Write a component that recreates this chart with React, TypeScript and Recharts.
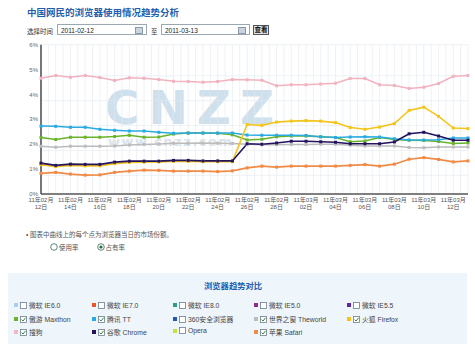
import { LineChart, Line, XAxis, YAxis, CartesianGrid } from 'recharts'

// 2011-02-12 .. 2011-03-13, one point per day
const days = [
    '2011-02-12', '2011-02-13', '2011-02-14', '2011-02-15', '2011-02-16', '2011-02-17',
    '2011-02-18', '2011-02-19', '2011-02-20', '2011-02-21', '2011-02-22', '2011-02-23',
    '2011-02-24', '2011-02-25', '2011-02-26', '2011-02-27', '2011-02-28', '2011-03-01',
    '2011-03-02', '2011-03-03', '2011-03-04', '2011-03-05', '2011-03-06', '2011-03-07',
    '2011-03-08', '2011-03-09', '2011-03-10', '2011-03-11', '2011-03-12', '2011-03-13',
]

const yTicks = [0, 1, 2, 3, 4, 5, 6]

// market share, %
const sogou = [4.65, 4.76, 4.69, 4.76, 4.68, 4.56, 4.67, 4.65, 4.6, 4.53, 4.52, 4.49, 4.52, 4.6, 4.59, 4.57, 4.35, 4.39, 4.39, 4.42, 4.45, 4.64, 4.64, 4.39, 4.36, 4.24, 4.29, 4.44, 4.73, 4.76]
const tt = [2.73, 2.72, 2.68, 2.68, 2.6, 2.56, 2.53, 2.53, 2.48, 2.44, 2.45, 2.45, 2.45, 2.45, 2.37, 2.36, 2.36, 2.36, 2.35, 2.3, 2.27, 2.29, 2.3, 2.29, 2.22, 2.17, 2.17, 2.18, 2.25, 2.25]
const maxthon = [2.27, 2.19, 2.28, 2.28, 2.28, 2.31, 2.36, 2.28, 2.29, 2.41, 2.45, 2.45, 2.44, 2.38, 2.17, 2.2, 2.3, 2.33, 2.33, 2.3, 2.27, 2.1, 2.13, 2.27, 2.19, 2.16, 2.15, 2.11, 2.03, 2.05]
const theworld = [1.92, 1.88, 1.92, 1.92, 1.92, 1.93, 1.97, 1.99, 2.01, 2.04, 2.04, 2.05, 2.04, 2.03, 2.0, 1.98, 1.98, 1.99, 1.99, 2.0, 2.0, 1.96, 1.93, 1.93, 1.93, 1.87, 1.86, 1.89, 1.89, 1.89]
const chrome = [1.24, 1.15, 1.2, 1.19, 1.19, 1.28, 1.32, 1.32, 1.32, 1.35, 1.35, 1.33, 1.33, 1.33, 2.02, 2.0, 2.05, 2.12, 2.12, 2.1, 2.08, 2.02, 2.02, 2.02, 2.09, 2.42, 2.48, 2.33, 2.16, 2.16]
const firefox = [1.18, 1.1, 1.15, 1.13, 1.13, 1.22, 1.27, 1.28, 1.29, 1.31, 1.31, 1.3, 1.3, 1.3, 2.79, 2.76, 2.89, 2.93, 2.95, 2.93, 2.87, 2.67, 2.6, 2.69, 2.83, 3.36, 3.49, 3.12, 2.65, 2.63]
const safari = [0.83, 0.87, 0.8, 0.76, 0.77, 0.87, 0.92, 0.96, 0.95, 0.92, 0.92, 0.92, 0.9, 0.93, 1.05, 1.12, 1.08, 1.12, 1.12, 1.12, 1.12, 1.15, 1.18, 1.12, 1.2, 1.4, 1.46, 1.39, 1.29, 1.33]

// legend panel entries (row by row)
const legendNames = [
    ['微软 IE6.0', '微软 IE7.0', '微软 IE8.0', '微软 IE5.0', '微软 IE5.5'],
    ['傲游 Maxthon', '腾讯 TT', '360安全浏览器', '世界之窗 Theworld', '火狐 Firefox'],
    ['搜狗', '谷歌 Chrome', 'Opera', '苹果 Safari'],
]
const legendColors = [
    ['#a9cdef', '#e9542c', '#2a9d8f', '#8c2c8e', '#5a2aa2'],
    ['#6ab42c', '#2aa8e0', '#2556b4', '#bdbdbd', '#f5c21b'],
    ['#f4b6c4', '#24125e', '#c8e03c', '#ef8a4a'],
]
const legendChecked = [
    [false, false, false, false, false],
    [true, true, false, true, true],
    [true, true, false, true],
]

const font = '"Liberation Sans", "Noto Sans CJK SC", sans-serif'

const chartData = days.map((d, i) => ({
    i,
    sogou: sogou[i],
    tt: tt[i],
    maxthon: maxthon[i],
    theworld: theworld[i],
    chrome: chrome[i],
    firefox: firefox[i],
    safari: safari[i],
}))

const series = [
    { key: 'theworld', color: '#bcbcbc' },
    { key: 'maxthon', color: '#6ab42c' },
    { key: 'tt', color: '#29aae1' },
    { key: 'firefox', color: '#f3c51c' },
    { key: 'chrome', color: '#23135f' },
    { key: 'safari', color: '#f08a45' },
    { key: 'sogou', color: '#f2b3c1' },
]

const xTicks = days.map((_, i) => i).filter((i) => i % 2 === 0)
const hGrid = Array.from({ length: 25 }, (_, k) => k * 0.25)
const vGrid = Array.from({ length: 59 }, (_, k) => k * 0.5)

function DateTick(props: any) {
    const { x, y, payload } = props
    const d = days[payload.value]
    if (!d) return null
    const [yy, mm, dd] = d.split('-')
    return (
        <text x={x} y={y} textAnchor="middle" fontSize={6} fill="#555" fontFamily={font}>
            <tspan x={x} dy={6}>{`${yy.slice(2)}年${mm}月`}</tspan>
            <tspan x={x} dy={7}>{`${dd}日`}</tspan>
        </text>
    )
}

function Checkbox({ checked }: { checked: boolean }) {
    return (
        <svg width={7} height={7} style={{ display: 'block' }}>
            <rect x={0.5} y={0.5} width={6} height={6} fill="#fff" stroke="#6d7d8d" strokeWidth={0.8} />
            {checked && <polyline points="1.6,3.6 3,5 5.6,1.8" fill="none" stroke="#2f8a2f" strokeWidth={1} />}
        </svg>
    )
}

function Radio({ on }: { on: boolean }) {
    return (
        <svg width={8} height={8} style={{ display: 'block' }}>
            <circle cx={4} cy={4} r={3.3} fill="#fff" stroke="#4a7a6a" strokeWidth={0.9} />
            {on && <circle cx={4} cy={4} r={1.6} fill="#2a6a4a" />}
        </svg>
    )
}

const colX = [14, 92, 173, 254, 347]
const rowY = [300, 314, 327]

export default function App() {
    return (
        <div style={{ position: 'absolute', left: 0, top: 0, width: 475, height: 352, background: '#fff', overflow: 'hidden', fontFamily: font }}>
            {/* header */}
            <div style={{ position: 'absolute', left: 27, top: 5, fontSize: 9.5, fontWeight: 'bold', color: '#1d5fae' }}>
                中国网民的浏览器使用情况趋势分析
            </div>
            <div style={{ position: 'absolute', left: 27, top: 26, fontSize: 6.5, color: '#333' }}>选择时间</div>
            <div style={{ position: 'absolute', left: 57, top: 24, width: 90, height: 11, border: '1px solid #9aa8b4', boxSizing: 'border-box', background: '#fff' }}>
                <span style={{ position: 'absolute', left: 3, top: 1.5, fontSize: 6.5, color: '#222' }}>2011-02-12</span>
                <span style={{ position: 'absolute', right: 3, top: 2, width: 6, height: 5, background: '#c9d4de', border: '0.5px solid #8c9aa8' }} />
            </div>
            <div style={{ position: 'absolute', left: 151, top: 26, fontSize: 6.5, color: '#333' }}>至</div>
            <div style={{ position: 'absolute', left: 161, top: 24, width: 89, height: 11, border: '1px solid #9aa8b4', boxSizing: 'border-box', background: '#fff' }}>
                <span style={{ position: 'absolute', left: 3, top: 1.5, fontSize: 6.5, color: '#222' }}>2011-03-13</span>
                <span style={{ position: 'absolute', right: 3, top: 2, width: 6, height: 5, background: '#c9d4de', border: '0.5px solid #8c9aa8' }} />
            </div>
            <div style={{ position: 'absolute', left: 253, top: 25, width: 16, height: 10, border: '1px solid #555', boxSizing: 'border-box', background: '#e4e4e4', fontSize: 6.5, fontWeight: 'bold', color: '#111', textAlign: 'center', lineHeight: '8px' }}>
                查看
            </div>

            {/* watermark */}
            <div style={{ position: 'absolute', left: 105, top: 78, fontSize: 47, fontWeight: 'bold', color: '#cfe0ed', letterSpacing: 9, fontFamily: '"DejaVu Sans", sans-serif', lineHeight: '60px' }}>
                CNZZ
            </div>
            <div style={{ position: 'absolute', left: 108, top: 134, fontSize: 13, fontWeight: 'bold', color: '#d9e3ea', letterSpacing: 1.5, fontFamily: '"DejaVu Sans", sans-serif' }}>
                www.cnzz.com
            </div>

            <div style={{ position: 'absolute', left: 0, top: 40 }}>
                <LineChart width={475} height={182} data={chartData} margin={{ top: 4.7, right: 7, left: 0, bottom: 0 }}>
                    <CartesianGrid stroke="#e3e9ee" strokeWidth={0.6} horizontalValues={hGrid} verticalValues={vGrid} />
                    <XAxis
                        dataKey="i"
                        type="number"
                        domain={[0, days.length - 1]}
                        ticks={xTicks}
                        interval={0}
                        height={28}
                        tickLine={false}
                        tickSize={0}
                        tickMargin={2}
                        tick={<DateTick />}
                        axisLine={{ stroke: '#555', strokeWidth: 1.6 }}
                    />
                    <XAxis xAxisId="top" dataKey="i" type="number" domain={[0, days.length - 1]} orientation="top" height={0} tick={false} tickLine={false} axisLine={{ stroke: '#777', strokeWidth: 1 }} />
                    <YAxis
                        domain={[0, 6]}
                        ticks={yTicks}
                        width={41}
                        tickLine={false}
                        tickSize={3}
                        tickMargin={0}
                        tickFormatter={(v) => `${v}%`}
                        tick={{ fontSize: 6, fill: '#666', fontFamily: font }}
                        axisLine={{ stroke: '#555', strokeWidth: 1.6 }}
                    />
                    <YAxis yAxisId="right" orientation="right" domain={[0, 6]} width={0} tick={false} tickLine={false} axisLine={{ stroke: '#777', strokeWidth: 1 }} />
                    {series.map((s) => (
                        <Line
                            key={s.key}
                            type="linear"
                            dataKey={s.key}
                            stroke={s.color}
                            strokeWidth={1.6}
                            isAnimationActive={false}
                            dot={(p: any) => (
                                <rect key={`${s.key}-${p.index}`} x={p.cx - 1.5} y={p.cy - 1.5} width={3} height={3} fill={s.color} />
                            )}
                            activeDot={false}
                        />
                    ))}
                </LineChart>
            </div>

            {/* note + radios */}
            <div style={{ position: 'absolute', left: 26, top: 229, fontSize: 6.5, color: '#555' }}>
                • 图表中曲线上的每个点为浏览器当日的市场份额。
            </div>
            <div style={{ position: 'absolute', left: 50, top: 242, display: 'flex', alignItems: 'center', fontSize: 6.5, color: '#555' }}>
                <Radio on={false} />
                <span style={{ marginLeft: 1 }}>使用率</span>
                <span style={{ width: 18 }} />
                <Radio on={true} />
                <span style={{ marginLeft: 1 }}>占有率</span>
            </div>

            {/* browser legend panel */}
            <div style={{ position: 'absolute', left: 8, top: 273, width: 459, height: 71, background: '#eef5fb' }} />
            <div style={{ position: 'absolute', left: 204, top: 279, fontSize: 8.3, fontWeight: 'bold', color: '#1d5fae' }}>浏览器趋势对比</div>
            {legendNames.map((row, r) =>
                row.map((name, c) => (
                    <div key={`${r}-${c}`} style={{ position: 'absolute', left: colX[c], top: rowY[r], display: 'flex', alignItems: 'center', fontSize: 6.8, color: '#444', whiteSpace: 'nowrap' }}>
                        <span style={{ width: 4, height: 4, background: legendColors[r][c], display: 'block' }} />
                        <span style={{ width: 2 }} />
                        <Checkbox checked={legendChecked[r][c]} />
                        <span style={{ marginLeft: 2 }}>{name}</span>
                    </div>
                ))
            )}
        </div>
    )
}
